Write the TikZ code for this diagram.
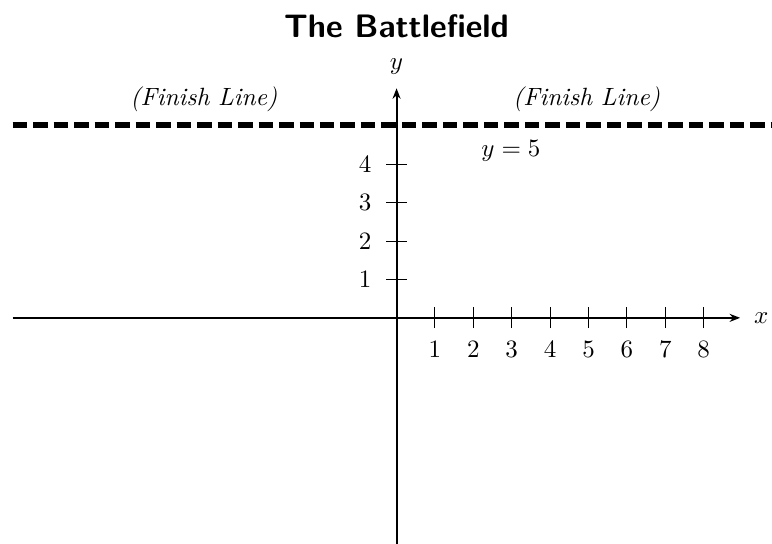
\documentclass[tikz,border=0pt]{standalone}
\usetikzlibrary{arrows.meta}
\begin{document}
\begin{tikzpicture}[x=0.54cm,y=0.54cm,
  axis/.style={thick,-{Stealth[length=4.2pt,width=3.2pt]}},
  tickmark/.style={line width=0.4pt},
  finish/.style={line width=2.6pt,dash pattern=on 5.8pt off 2.4pt},
  ticklabel/.style={inner sep=0pt,anchor=center},
  lbl/.style={inner sep=0pt}]
\useasboundingbox (-10.33,-5.885) rectangle (9.78,8.28);
% axes
\coordinate (xs) at (-10,0);
\coordinate (xe) at (8.95,0);
\coordinate (ys) at (0,-5.885);
\coordinate (ye) at (0,5.98);
\draw[axis] (xs) -- (xe);
\draw[axis] (ys) -- (ye);
\node[lbl,anchor=west] (xl) at (9.3,0) {$x$};
\node[lbl] (yl) at (0,6.55) {$y$};
% ticks
\foreach \i in {1,...,8}{
  \draw[tickmark] (\i,-0.27) -- (\i,0.27);
  \node[ticklabel] (xt\i) at (\i,-0.83) {$\i$};
}
\foreach \i in {1,...,4}{
  \draw[tickmark] (-0.27,\i) -- (0.27,\i);
  \node[ticklabel] (yt\i) at (-0.82,\i) {$\i$};
}
% finish line
\coordinate (fs) at (-10,5.02);
\coordinate (fe) at (9.78,5.02);
\draw[finish] (fs) -- (fe);
\node[lbl] (fl1) at (-5.02,5.7) {\itshape (Finish Line)};
\node[lbl] (fl2) at (4.95,5.7) {\itshape (Finish Line)};
\node[lbl] (y5) at (2.98,4.36) {$y=5$};
% title
\node[lbl] (title) at (0,7.6) {\fontsize{13}{15}\selectfont\sffamily\bfseries The Battlefield};
\end{tikzpicture}
\end{document}
